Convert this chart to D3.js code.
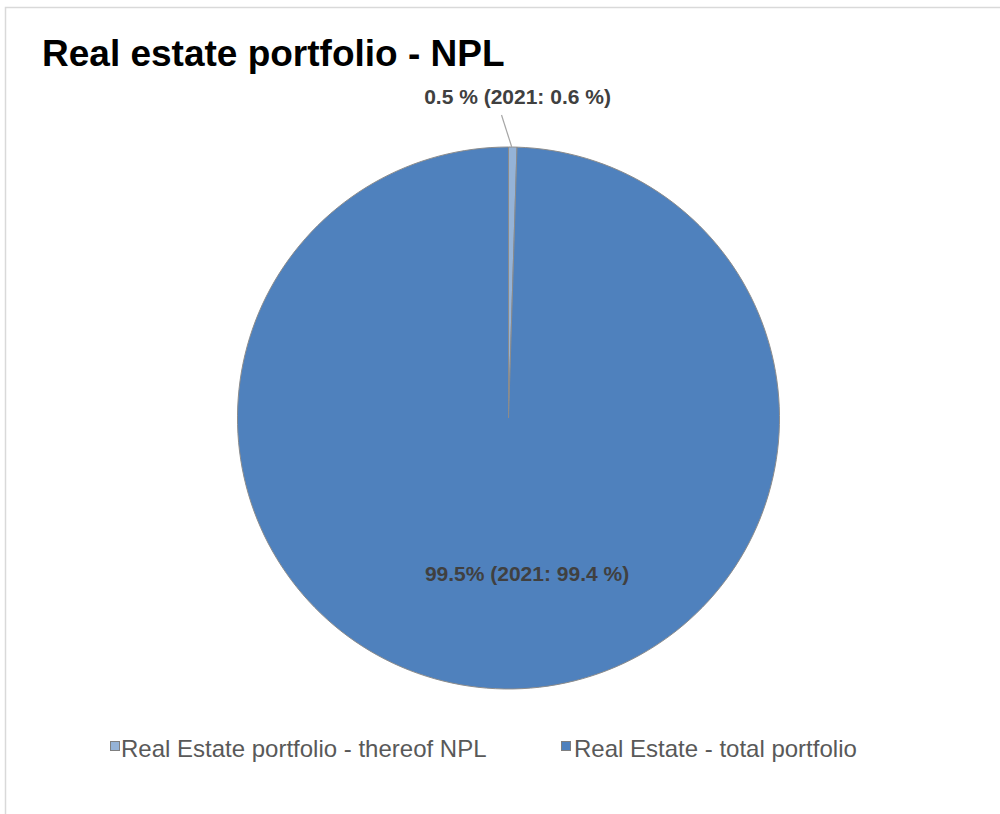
<!DOCTYPE html>
<html>
<head>
<meta charset="utf-8">
<script src="https://cdn.jsdelivr.net/npm/d3@7"></script>
<style>
  html, body { margin: 0; padding: 0; background: #ffffff; }
  svg { display: block; font-family: "Liberation Sans", Arial, sans-serif; }
</style>
</head>
<body>
<svg id="chart" width="1000" height="814"></svg>
<script>
// Portfolio shares (percent)
const categories = ["Real Estate portfolio - thereof NPL", "Real Estate - total portfolio"];
const shares = [0.5, 99.5];
const labels = ["0.5 % (2021: 0.6 %)", "99.5% (2021: 99.4 %)"];
const colors = ["#95b3d7", "#4f81bd"];

const svg = d3.select("#chart");
const W = 1000, H = 814;

// Chart area frame
svg.append("rect")
  .attr("x", 5.5).attr("y", 7.5)
  .attr("width", W + 20).attr("height", H + 20)
  .attr("fill", "#ffffff")
  .attr("stroke", "#d9d9d9")
  .attr("stroke-width", 1.5);

// Title
svg.append("text")
  .attr("x", 42).attr("y", 66)
  .attr("font-size", 37)
  .attr("font-weight", "bold")
  .attr("fill", "#000000")
  .text("Real estate portfolio - NPL");

// Pie
const cx = 508.5, cy = 418, r = 271;
const data = categories.map((c, i) => ({ name: c, value: shares[i], label: labels[i], color: colors[i] }));

const pie = d3.pie().sort(null).value(d => d.value);
const arcs = pie(data);
const arc = d3.arc().innerRadius(0).outerRadius(r);

const g = svg.append("g").attr("transform", `translate(${cx},${cy})`);

g.selectAll("path.slice")
  .data(arcs)
  .join("path")
  .attr("class", "slice")
  .attr("d", arc)
  .attr("fill", d => d.data.color)
  .attr("stroke", "#8c8c8c")
  .attr("stroke-width", 1);

// Label for the small NPL slice, placed above with a leader line
const small = arcs[0];
const smallMid = (small.startAngle + small.endAngle) / 2;
const edge = [Math.sin(smallMid) * r, -Math.cos(smallMid) * r];
const smallLabelPos = [9, -314];
g.append("line")
  .attr("x1", edge[0] - 1).attr("y1", edge[1])
  .attr("x2", smallLabelPos[0] - 16).attr("y2", smallLabelPos[1] + 11)
  .attr("stroke", "#a6a6a6")
  .attr("stroke-width", 1.2);
g.append("text")
  .attr("x", smallLabelPos[0]).attr("y", smallLabelPos[1])
  .attr("text-anchor", "middle")
  .attr("font-size", 21)
  .attr("font-weight", "bold")
  .attr("fill", "#404040")
  .text(small.data.label);

// Label inside the large slice
const big = arcs[1];
const labelArc = d3.arc().innerRadius(r * 0.58).outerRadius(r * 0.58);
const c = labelArc.centroid(big);
g.append("text")
  .attr("x", c[0] + 21).attr("y", c[1] + 6)
  .attr("text-anchor", "middle")
  .attr("font-size", 21)
  .attr("font-weight", "bold")
  .attr("fill", "#404040")
  .text(big.data.label);

// Legend
const legendItems = [
  { x: 110, tx: 121, text: categories[0], color: colors[0] },
  { x: 561, tx: 574, text: categories[1], color: colors[1] }
];
const legend = svg.append("g");
legendItems.forEach(it => {
  legend.append("rect")
    .attr("x", it.x + 0.5).attr("y", 741.5)
    .attr("width", 9).attr("height", 9)
    .attr("fill", it.color)
    .attr("stroke", "#7f7f7f")
    .attr("stroke-width", 1);
  legend.append("text")
    .attr("x", it.tx).attr("y", 757)
    .attr("font-size", 24)
    .attr("fill", "#595959")
    .text(it.text);
});
</script>
</body>
</html>
